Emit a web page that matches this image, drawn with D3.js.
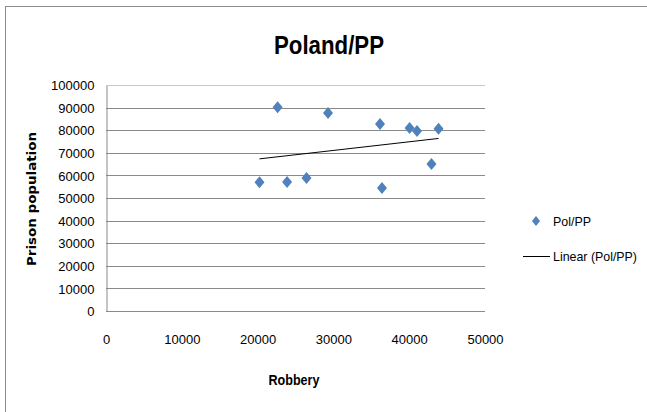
<!DOCTYPE html>
<html>
<head>
<meta charset="utf-8">
<script src="https://cdn.jsdelivr.net/npm/d3@7"></script>
<style>
  body { margin: 0; background: #fff; }
  text { font-family: "Liberation Sans Narrow", "Liberation Sans", Arial, sans-serif; fill: #000; }
</style>
</head>
<body>
<div id="chart"></div>
<script>
// Robbery (x) vs prison population (y), Poland
const robbery = [20250, 22640, 23890, 26450, 29290, 36150, 36410, 40050, 41030, 42940, 43870]
const prison = [56950, 90130, 57080, 58850, 87610, 82740, 54420, 80970, 79650, 65040, 80660]
const xTicks = [0, 10000, 20000, 30000, 40000, 50000]
const yTicks = [0, 10000, 20000, 30000, 40000, 50000, 60000, 70000, 80000, 90000, 100000]
const seriesName = 'Pol/PP'
const trendName = 'Linear (Pol/PP)'

const width = 647, height = 412
const plot = {left: 106, right: 485, top: 85, bottom: 311}

let svg = d3.select('#chart').append('svg')
    .attr('width', width)
    .attr('height', height)

// outer frame
svg.append('rect')
    .attr('x', 5.5).attr('y', 6.5)
    .attr('width', 660).attr('height', 420)
    .attr('fill', 'none')
    .attr('stroke', '#8c8c8c')

let xScale = d3.scaleLinear().domain([0, 50000]).range([plot.left, plot.right])
let yScale = d3.scaleLinear().domain([0, 100000]).range([plot.bottom, plot.top])

// gridlines
svg.append('g').classed('grid', true)
    .selectAll('line')
    .data(yTicks)
    .join('line')
    .attr('x1', plot.left).attr('x2', plot.right)
    .attr('y1', d => Math.round(yScale(d)) + 0.5)
    .attr('y2', d => Math.round(yScale(d)) + 0.5)
    .attr('stroke', d => d === 100000 ? '#c8c8c8' : '#8a8a8a')
    .attr('stroke-width', 1)

// y axis
let yAxis = svg.append('g').classed('y-axis', true)
    .attr('transform', 'translate(' + (plot.left + 0.5) + ',0.5)')
    .call(d3.axisLeft(yScale).tickValues(yTicks).tickSize(0).tickPadding(12).tickFormat(d3.format('d')))
yAxis.select('.domain').attr('stroke', '#8a8a8a')
yAxis.selectAll('text').style('font-size', '13px').attr('fill', '#000')

// x axis labels (no axis line below the 0 gridline)
let xAxis = svg.append('g').classed('x-axis', true)
    .attr('transform', 'translate(0,' + (plot.bottom + 24) + ')')
    .call(d3.axisBottom(xScale).tickValues(xTicks).tickSize(0).tickPadding(0).tickFormat(d3.format('d')))
xAxis.select('.domain').remove()
xAxis.selectAll('text').style('font-size', '13px').attr('fill', '#000')

// title
svg.append('text')
    .text('Poland/PP')
    .attr('x', 329).attr('y', 54)
    .attr('text-anchor', 'middle')
    .attr('textLength', 110)
    .attr('lengthAdjust', 'spacingAndGlyphs')
    .style('font-size', '26px')
    .style('font-weight', 'bold')

// axis titles
svg.append('text')
    .text('Robbery')
    .attr('x', 294).attr('y', 385)
    .attr('text-anchor', 'middle')
    .attr('textLength', 51)
    .attr('lengthAdjust', 'spacingAndGlyphs')
    .style('font-size', '15px')
    .style('font-weight', 'bold')

svg.append('text')
    .text('Prison population')
    .attr('transform', 'translate(36,' + 199 + ') rotate(-90)')
    .attr('text-anchor', 'middle')
    .attr('textLength', 134)
    .attr('lengthAdjust', 'spacingAndGlyphs')
    .style('font-family', '"DejaVu Sans", sans-serif')
    .style('font-size', '12px')
    .style('font-weight', 'bold')

// linear trendline (least squares)
let mx = d3.mean(robbery), my = d3.mean(prison)
let sxy = d3.sum(robbery, (x, i) => (x - mx) * (prison[i] - my))
let sxx = d3.sum(robbery, x => (x - mx) * (x - mx))
let slope = sxy / sxx
let intercept = my - slope * mx
let xExt = d3.extent(robbery)

svg.append('line').classed('trend', true)
    .attr('x1', xScale(xExt[0])).attr('y1', yScale(intercept + slope * xExt[0]))
    .attr('x2', xScale(xExt[1])).attr('y2', yScale(intercept + slope * xExt[1]))
    .attr('stroke', '#000')
    .attr('stroke-width', 1)

// diamond markers
let diamond = 'M0,-6L5,0L0,6L-5,0Z'
svg.append('g').classed('points', true)
    .selectAll('path')
    .data(robbery.map((x, i) => ({x: x, y: prison[i]})))
    .join('path')
    .attr('d', diamond)
    .attr('transform', d => 'translate(' + xScale(d.x) + ',' + yScale(d.y) + ')')
    .attr('fill', '#4f81bd')

// legend
let legend = svg.append('g').classed('legend', true)
legend.append('path')
    .attr('d', 'M0,-5L4,0L0,5L-4,0Z')
    .attr('transform', 'translate(536,221)')
    .attr('fill', '#4f81bd')
legend.append('text')
    .text(seriesName)
    .attr('x', 553).attr('y', 226)
    .attr('textLength', 38)
    .attr('lengthAdjust', 'spacingAndGlyphs')
    .style('font-size', '13px')
legend.append('line')
    .attr('x1', 523).attr('x2', 550)
    .attr('y1', 256.5).attr('y2', 256.5)
    .attr('stroke', '#000')
legend.append('text')
    .text(trendName)
    .attr('x', 553).attr('y', 261)
    .attr('textLength', 84)
    .attr('lengthAdjust', 'spacingAndGlyphs')
    .style('font-size', '13px')
</script>
</body>
</html>
